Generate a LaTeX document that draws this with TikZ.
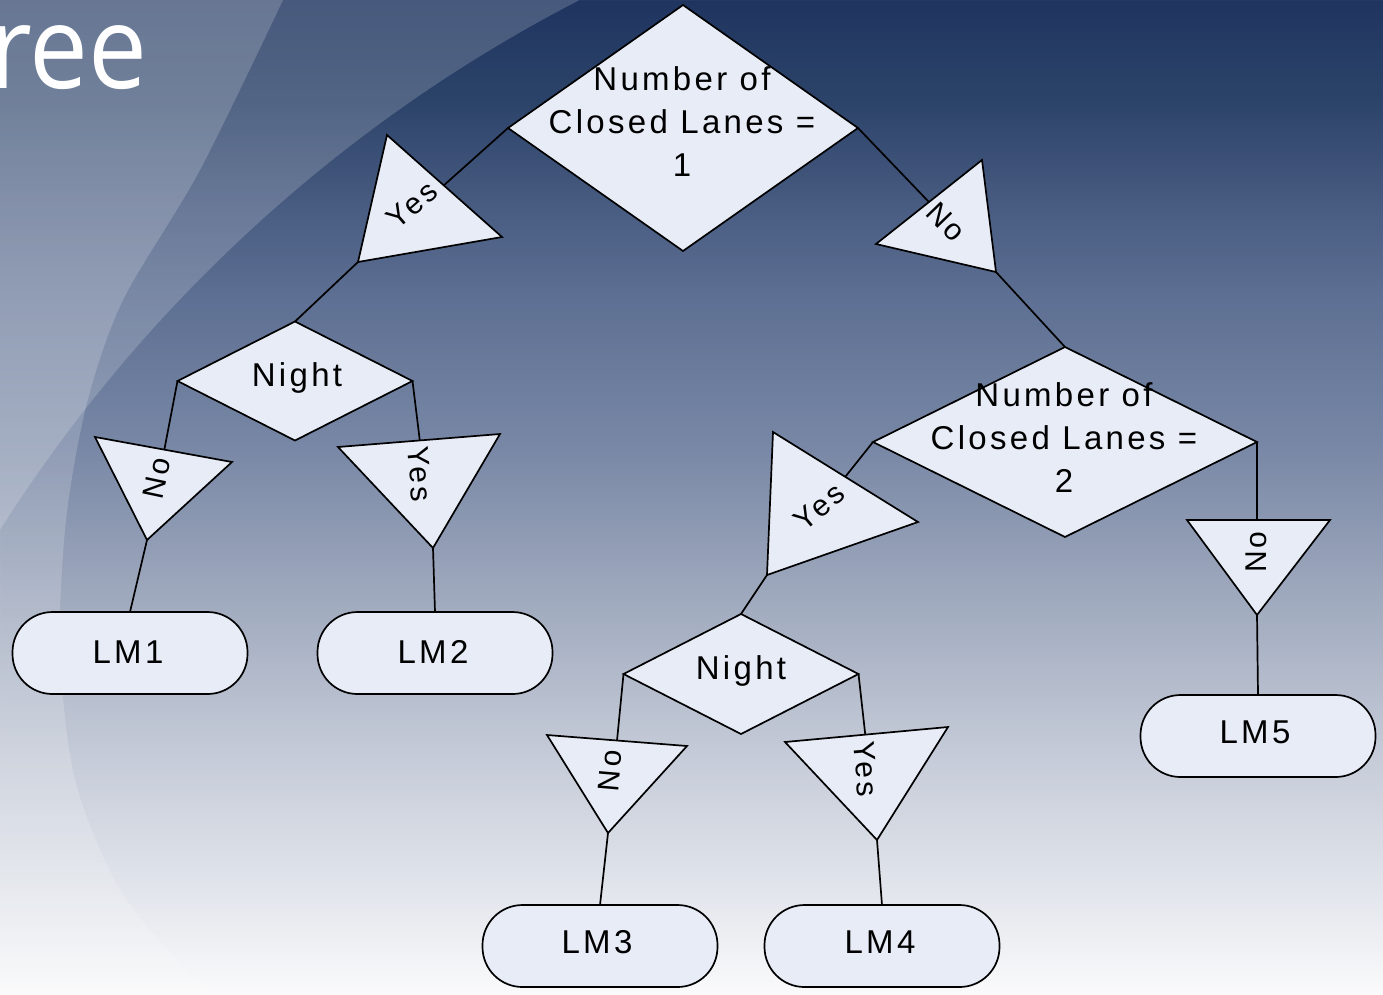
\documentclass[tikz,border=0pt]{standalone}
\usepackage{fontspec}
\setmainfont{Liberation Sans}
\newfontfamily\diagfont{Liberation Sans}[LetterSpace=10]
\newfontfamily\titlefont{Open Sans}
\usetikzlibrary{shapes.geometric}
\pgfdeclarelayer{bg}
\pgfdeclarelayer{lines}
\pgfsetlayers{bg,lines,main}
\definecolor{shapefill}{RGB}{231,236,247}
\definecolor{bgA}{RGB}{31,53,96}
\definecolor{bgB}{RGB}{44,67,105}
\definecolor{bgC}{RGB}{71,90,128}
\definecolor{bgD}{RGB}{94,112,147}
\definecolor{bgE}{RGB}{121,136,166}
\definecolor{bgF}{RGB}{160,170,190}
\definecolor{bgG}{RGB}{196,202,215}
\definecolor{bgH}{RGB}{228,231,237}
\definecolor{bgI}{RGB}{250,250,251}
\tikzset{
  outline/.style={draw=black, line width=1.7pt, fill=shapefill, line join=miter},
  decision/.style={outline, diamond, inner sep=0pt, outer sep=0pt},
  leaf/.style={outline, rectangle, rounded corners=40pt, minimum width=235pt, minimum height=82pt, inner sep=0pt, outer sep=0pt},
  tri/.style={outline},
  dtext/.style={font=\diagfont\fontsize{33}{43}\selectfont, align=center, inner sep=0pt},
  tlabel/.style={font=\diagfont\fontsize{30}{36}\selectfont, inner sep=0pt},
  conn/.style={draw=black, line width=1.7pt},
  glow/.style={fill=white, opacity=0.18}
}
\begin{document}
\begin{tikzpicture}[x=1pt,y=-1pt]
\useasboundingbox (0,0) rectangle (1383,994);
\clip (0,0) rectangle (1383,994);

% ---------- background ----------
\begin{pgfonlayer}{bg}
\fill[top color=bgA, bottom color=bgB] (0,0) rectangle (1383,100.5);
\fill[top color=bgB, bottom color=bgC] (0,100) rectangle (1383,200.5);
\fill[top color=bgC, bottom color=bgD] (0,200) rectangle (1383,300.5);
\fill[top color=bgD, bottom color=bgE] (0,300) rectangle (1383,450.5);
\fill[top color=bgE, bottom color=bgF] (0,450) rectangle (1383,600.5);
\fill[top color=bgF, bottom color=bgG] (0,600) rectangle (1383,750.5);
\fill[top color=bgG, bottom color=bgH] (0,750) rectangle (1383,900.5);
\fill[top color=bgH, bottom color=bgI] (0,900) rectangle (1383,994);
\fill[glow, even odd rule] (0,0) rectangle (1383,994) (1263,1330) circle[radius=1495pt];
\fill[glow] (0,0) -- plot[smooth] coordinates {(283,0) (200,170) (123,300) (87,403) (66,520) (60,650) (75,780) (120,890) (187,971) (215,994)} -- (0,994) -- cycle;
\node[anchor=base west, text=white, inner sep=0pt, yscale=1.1, font=\titlefont\fontsize{105}{110}\selectfont] (title) at (-11,88) {ree};
\end{pgfonlayer}

% ---------- decisions ----------
\node[decision, minimum width=350pt, minimum height=246pt] (D1) at (683,128) {};
\node[dtext] (D1t) at (682,122) {Number of\\Closed Lanes =\\1};
\node[decision, minimum width=384pt, minimum height=190pt] (D2) at (1065,442) {};
\node[dtext] (D2t) at (1064,438) {Number of\\Closed Lanes =\\2};
\node[decision, minimum width=235pt, minimum height=119pt] (N1) at (295,381) {};
\node[dtext] (N1t) at (297,378) {Night};
\node[decision, minimum width=235pt, minimum height=120pt] (N2) at (741,674) {};
\node[dtext] (N2t) at (741,671) {Night};

% ---------- leaves ----------
\node[leaf] (LM1) at (130,653) {};
\node[dtext] (LM1t) at (128,652) {LM1};
\node[leaf] (LM2) at (435,653) {};
\node[dtext] (LM2t) at (433,652) {LM2};
\node[leaf] (LM3) at (600,946) {};
\node[dtext] (LM3t) at (597,942) {LM3};
\node[leaf] (LM4) at (882,946) {};
\node[dtext] (LM4t) at (880,942) {LM4};
\node[leaf] (LM5) at (1258,736) {};
\node[dtext] (LM5t) at (1255,732) {LM5};

% ---------- branch triangles ----------
\coordinate (T1a) at (387,135); \coordinate (T1b) at (502,237); \coordinate (T1c) at (358,262);
\filldraw[tri] (T1a) -- (T1b) -- (T1c) -- cycle;
\node[tlabel, rotate=41] (T1l) at (412,205) {Yes};

\coordinate (T2a) at (876,244); \coordinate (T2b) at (982,160); \coordinate (T2c) at (996,272);
\filldraw[tri] (T2a) -- (T2b) -- (T2c) -- cycle;
\node[tlabel, rotate=-46] (T2l) at (946,222) {No};

\coordinate (T3a) at (773,432); \coordinate (T3b) at (918,522); \coordinate (T3c) at (767,575);
\filldraw[tri] (T3a) -- (T3b) -- (T3c) -- cycle;
\node[tlabel, rotate=40] (T3l) at (819,507) {Yes};

\coordinate (T4a) at (1187,520); \coordinate (T4b) at (1330,520); \coordinate (T4c) at (1257,615);
\filldraw[tri] (T4a) -- (T4b) -- (T4c) -- cycle;
\node[tlabel, rotate=90] (T4l) at (1256,552) {No};

\coordinate (T5a) at (95,437); \coordinate (T5b) at (232,462); \coordinate (T5c) at (147,540);
\filldraw[tri] (T5a) -- (T5b) -- (T5c) -- cycle;
\node[tlabel, rotate=78] (T5l) at (157,478) {No};

\coordinate (T6a) at (338,447); \coordinate (T6b) at (500,434); \coordinate (T6c) at (433,548);
\filldraw[tri] (T6a) -- (T6b) -- (T6c) -- cycle;
\node[tlabel, rotate=-85] (T6l) at (420,474) {Yes};

\coordinate (T7a) at (547,735); \coordinate (T7b) at (687,746); \coordinate (T7c) at (608,833);
\filldraw[tri] (T7a) -- (T7b) -- (T7c) -- cycle;
\node[tlabel, rotate=85] (T7l) at (610,771) {No};

\coordinate (T8a) at (785,742); \coordinate (T8b) at (948,727); \coordinate (T8c) at (877,840);
\filldraw[tri] (T8a) -- (T8b) -- (T8c) -- cycle;
\node[tlabel, rotate=-85] (T8l) at (866,769) {Yes};

% ---------- connectors ----------
\begin{pgfonlayer}{lines}
\draw[conn] (D1.west) -- (T1c) -- (N1.north);
\draw[conn] (D1.east) -- (T2c) -- (D2.north);
\draw[conn] (D2.west) -- (T3c) -- (N2.north);
\draw[conn] (D2.east) -- (T4c) -- (LM5.north);
\draw[conn] (N1.west) -- (T5c) -- (LM1.north);
\draw[conn] (N1.east) -- (T6c) -- (LM2.north);
\draw[conn] (N2.west) -- (T7c) -- (LM3.north);
\draw[conn] (N2.east) -- (T8c) -- (LM4.north);
\end{pgfonlayer}
\end{tikzpicture}
\end{document}
